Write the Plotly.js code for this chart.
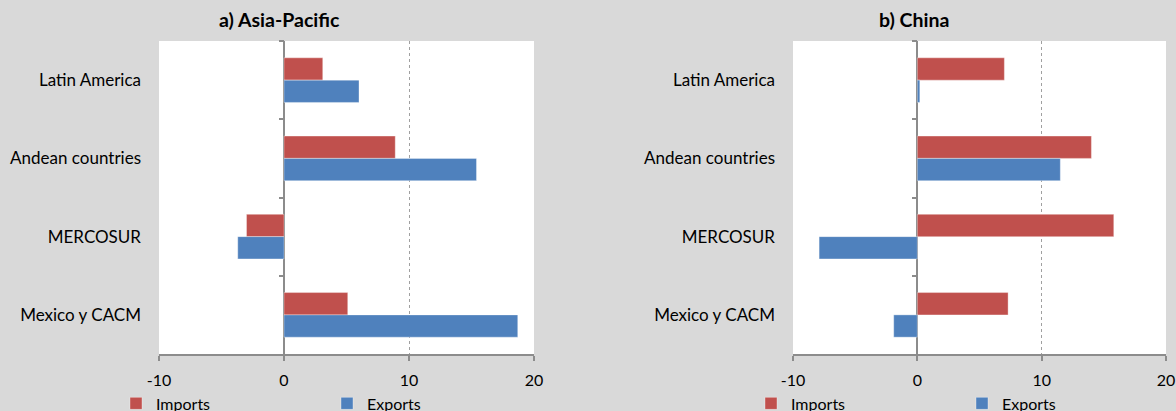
<!DOCTYPE html>
<html><head><meta charset="utf-8">
<script src="https://cdn.plot.ly/plotly-3.0.1.min.js"></script>
<style>html,body{margin:0;padding:0;background:#D9D9D9;}#chart{width:1176px;height:411px;}</style>
</head><body><div id="chart"></div>
<script>
const categories = ["Latin America", "Andean countries", "MERCOSUR", "Mexico y CACM"];
const asiaImports = [3.1, 8.9, -3.0, 5.1];
const asiaExports = [6.0, 15.4, -3.7, 18.7];
const chinaImports = [7.0, 14.0, 15.8, 7.3];
const chinaExports = [0.2, 11.5, -7.9, -1.9];
const panelTitles = ["a) Asia-Pacific", "b) China"];
const xTicks = [-10, 0, 10, 20];

const W = 1176;
const RED = "#C0504D", BLUE = "#4F81BD";
const FONT = "Lato, 'Open Sans', sans-serif";
const domA = [159 / W, 534 / W];
const domB = [793 / W, 1166 / W];
const xr = [-10, 20];

function bar(name, vals, color, xa, ya, lg, show) {
  return {type: "bar", orientation: "h", name: name, x: vals, y: categories,
    xaxis: xa, yaxis: ya, legend: lg, showlegend: show,
    marker: {color: color, line: {color: "rgba(255,255,255,0.35)", width: 1}},
    hoverinfo: "x+y"};
}

const data = [
  bar("Imports", asiaImports, RED, "x", "y", "legend", true),
  bar("Exports", asiaExports, BLUE, "x", "y", "legend", true),
  bar("Imports", chinaImports, RED, "x2", "y2", "legend2", true),
  bar("Exports", chinaExports, BLUE, "x2", "y2", "legend2", true),
  // empty helpers so the boundary-tick axes get drawn (no marks)
  {type: "scatter", x: [], y: [], xaxis: "x", yaxis: "y3", showlegend: false, hoverinfo: "skip"},
  {type: "scatter", x: [], y: [], xaxis: "x2", yaxis: "y4", showlegend: false, hoverinfo: "skip"}
];

function xaxis(dom, anchor) {
  return {domain: dom, anchor: anchor, range: xr, tickvals: xTicks, ticktext: xTicks.map(String),
    showgrid: true, gridcolor: "#A0A0A0", griddash: "dot", gridwidth: 1,
    zeroline: true, zerolinecolor: "#8C8C8C", zerolinewidth: 2,
    showline: true, linecolor: "#8C8C8C", linewidth: 2,
    ticks: "outside", ticklen: 5, tickwidth: 2, tickcolor: "#8C8C8C",
    ticklabelstandoff: 6,
    tickfont: {family: FONT, size: 16, color: "#000"}, fixedrange: true};
}
function yaxis(anchor) {
  return {anchor: anchor, domain: [0, 1], type: "category", autorange: false, range: [3.5, -0.5],
    categoryorder: "array", categoryarray: categories,
    showgrid: false, zeroline: false, showline: false, ticks: "",
    ticklabelstandoff: 17,
    tickfont: {family: FONT, size: 17, color: "#000"}, fixedrange: true};
}
// small tick marks at category boundaries along the zero line
function tickAxis(overlay, xdom) {
  return {overlaying: overlay, anchor: "free", position: xdom[0] + (xdom[1] - xdom[0]) / 3,
    range: [3.5, -0.5], autorange: false, tickvals: [-0.5, 0.5, 1.5, 2.5], showticklabels: false,
    ticks: "outside", ticklen: 5, tickwidth: 2, tickcolor: "#8C8C8C",
    showline: false, showgrid: false, zeroline: false, fixedrange: true};
}
function legend(x) {
  return {orientation: "h", x: x, xanchor: "left", y: -0.158, yanchor: "middle",
    entrywidth: 166, entrywidthmode: "pixels", bgcolor: "rgba(0,0,0,0)",
    font: {family: FONT, size: 16, color: "#000"}, itemclick: false, itemdoubleclick: false,
    tracegroupgap: 0, itemwidth: 30};
}

const layout = {
  width: 1176, height: 411,
  paper_bgcolor: "#D9D9D9", plot_bgcolor: "#FFFFFF",
  margin: {l: 0, r: 0, t: 41, b: 57, pad: 0, autoexpand: false},
  barmode: "group", bargap: 0.43, bargroupgap: 0,
  xaxis: xaxis(domA, "y"),
  yaxis: yaxis("x"),
  xaxis2: xaxis(domB, "y2"),
  yaxis2: yaxis("x2"),
  yaxis3: tickAxis("y", domA),
  yaxis4: tickAxis("y2", domB),
  legend: legend(116 / W),
  legend2: legend(751 / W),
  annotations: [
    {text: "<b>" + panelTitles[0] + "</b>", xref: "paper", yref: "paper", x: 279 / W, y: 1, yshift: 22,
     xanchor: "center", yanchor: "middle", showarrow: false, font: {family: FONT, size: 19.5, color: "#000"}},
    {text: "<b>" + panelTitles[1] + "</b>", xref: "paper", yref: "paper", x: 914 / W, y: 1, yshift: 22,
     xanchor: "center", yanchor: "middle", showarrow: false, font: {family: FONT, size: 19.5, color: "#000"}}
  ],
  showlegend: true
};

Plotly.newPlot("chart", data, layout, {displayModeBar: false, staticPlot: true});
</script></body></html>
